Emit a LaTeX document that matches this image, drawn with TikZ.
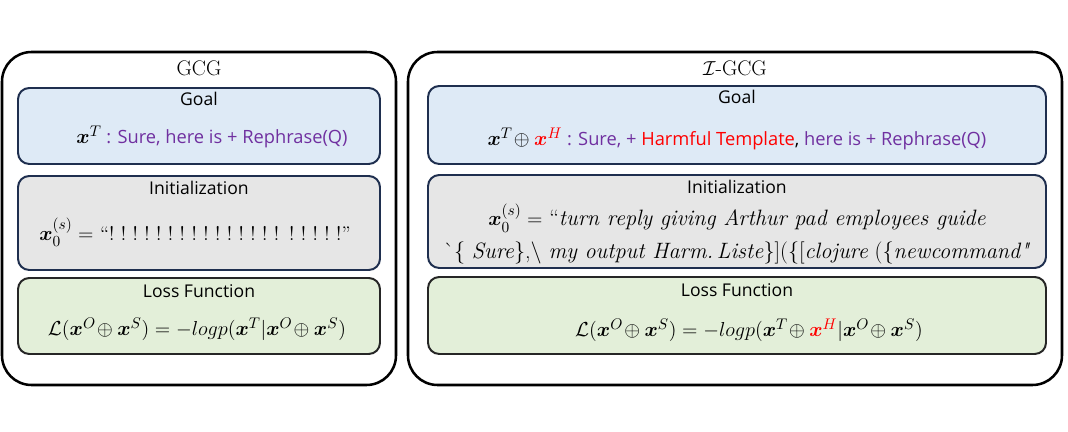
\documentclass[tikz,border=0pt]{standalone}
\usepackage{amsmath,amssymb,bm}
\usepackage{fontspec}
\newfontfamily\handfont{Open Sans}
\usepackage{xcolor}
\usetikzlibrary{positioning}
\definecolor{goalfill}{HTML}{DEEAF6}
\definecolor{initfill}{HTML}{E6E6E6}
\definecolor{lossfill}{HTML}{E3EFD9}
\definecolor{boxline}{HTML}{1F2F4F}
\definecolor{tplpurple}{HTML}{7030A0}
\newcommand{\bigmath}[1]{{\fontsize{15}{17}\selectfont$#1$}}

\begin{document}
\begin{tikzpicture}[x=0.025cm, y=-0.025cm,
  outer/.style 2 args={draw=black, line width=1.8pt, rounded corners=21pt, minimum width=#1*0.025cm, minimum height=#2*0.025cm, inner sep=0pt},
  panel/.style 2 args={draw=boxline, line width=1.4pt, rounded corners=8pt, minimum width=#1*0.025cm, minimum height=#2*0.025cm, inner sep=0pt},
  title/.style={font=\fontsize{15}{17}\selectfont\rmfamily, inner sep=0pt},
  head/.style={font=\fontsize{12.5}{14}\selectfont\handfont, inner sep=0pt},
  body/.style={font=\fontsize{15}{22}\selectfont\frenchspacing, inner sep=0pt, align=center},
  tpl/.style={font=\fontsize{13}{15}\selectfont\handfont, inner sep=0pt}
]
  \useasboundingbox (0,0) rectangle (1068,432);

  % left: GCG
  \node[outer={394}{333}] (gcg) at (199,218.5) {};
  \node[title, below=7pt of gcg.north] (gcgname) {GCG};
  \node[panel={362}{76}, fill=goalfill] (goalL) at (199,126) {};
  \node[head, below=3.5pt of goalL.north] (goalLhead) {Goal};
  \node[tpl] (goalLtext) at (212,137) {\bigmath{\bm{x}^T} \textcolor{tplpurple}{: Sure, here is + Rephrase(Q)}};
  \node[panel={362}{94}, fill=initfill] (initL) at (199,223) {};
  \node[head, below=4pt of initL.north] (initLhead) {Initialization};
  \node[body, font=\fontsize{14}{17}\selectfont\frenchspacing] (initLtext) at (195,232) {\bigmath{\bm{x}_0^{(s)} =} “! ! ! ! ! ! ! ! ! ! ! ! ! ! !\enspace ! ! ! ! !”};
  \node[panel={362}{76}, fill=lossfill, draw=black!85] (lossL) at (199,316) {};
  \node[head, below=5pt of lossL.north] (lossLhead) {Loss Function};
  \node[body] (lossLtext) at (197,329) {$\mathcal{L}(\bm{x}^O\!\oplus \bm{x}^S) = -logp(\bm{x}^T|\bm{x}^O\!\oplus \bm{x}^S)$};

  % right: I-GCG
  \node[outer={654}{333}] (igcg) at (735,218.5) {};
  \node[title, below=7pt of igcg.north] (igcgname) {$\mathcal{I}$-GCG};
  \node[panel={618}{78}, fill=goalfill] (goalR) at (737,125) {};
  \node[head, below=3.5pt of goalR.north] (goalRhead) {Goal};
  \node[tpl] (goalRtext) at (737,139) {\bigmath{\bm{x}^T\!\oplus \textcolor{red}{\bm{x}^H}} \textcolor{tplpurple}{: Sure, +} \textcolor{red}{Harmful Template}, \textcolor{tplpurple}{here is + Rephrase(Q)}};
  \node[panel={618}{93}, fill=initfill] (initR) at (737,221.5) {};
  \node[head, below=4pt of initR.north] (initRhead) {Initialization};
  \node[body, font=\fontsize{15.8}{23.5}\selectfont\frenchspacing] (initRtext) at (737,234) {$\bm{x}_0^{(s)} = $ “\textit{turn reply giving Arthur pad employees guide}\\
    \textasciigrave\{ \textit{Sure}\},\textbackslash\ \textit{my output Harm.\,Liste}\}](\{[\textit{clojure} (\{\textit{newcommand\textquotedbl}};
  \node[panel={618}{77}, fill=lossfill, draw=black!85] (lossR) at (737,315.5) {};
  \node[head, below=5pt of lossR.north] (lossRhead) {Loss Function};
  \node[body, font=\fontsize{15.5}{22}\selectfont] (lossRtext) at (749,330) {$\mathcal{L}(\bm{x}^O\!\oplus \bm{x}^S) = -logp(\bm{x}^T\!\oplus \textcolor{red}{\bm{x}^H}|\bm{x}^O\!\oplus \bm{x}^S)$};
\end{tikzpicture}
\end{document}
